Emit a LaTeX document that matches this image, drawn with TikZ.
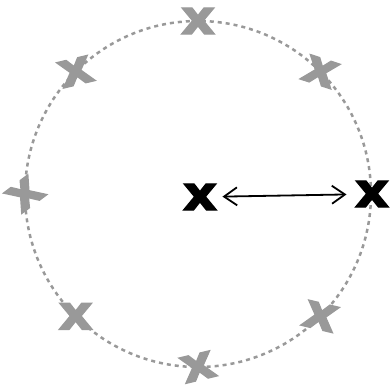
\documentclass[tikz,border=0pt]{standalone}
\usepackage{fontspec}
\setmainfont{DejaVu Sans}
\newfontfamily\croixfont[FakeBold=2.5]{DejaVu Sans Bold}
\usetikzlibrary{calc,arrows.meta}
\definecolor{Gris}{HTML}{999999}
\tikzset{
  croix/.style={font=\croixfont\fontsize{48}{48}\selectfont, inner sep=0pt, xscale=1.12},
  fleche/.style={{Straight Barb[length=13bp,width=18bp]}-{Straight Barb[length=13bp,width=18bp]}, line width=1.8bp},
}
\begin{document}
\begin{tikzpicture}[x=1bp,y=1bp]
  \useasboundingbox (0,0) rectangle (392,389);
  \coordinate (centre) at (198,195);
  \draw[Gris, line width=2.5bp, dash pattern=on 4bp off 4bp] (centre) circle[radius=173];
  % les positions grises autour du cercle
  \foreach \ang/\rot [count=\i] in {45/-20,90/0,135/15,180/40,225/0,270/15,315/-15}{
    \node[croix, text=Gris, rotate=\rot] (p\i) at ($(centre)+(\ang:173)$) {x};
  }
  \node[croix] (milieu) at (200,192) {x};
  \node[croix] (droite) at ($(centre)+(0:174)$) {x};
  \draw[fleche, shorten <=5bp, shorten >=8bp] (milieu) -- (droite);
\end{tikzpicture}
\end{document}
